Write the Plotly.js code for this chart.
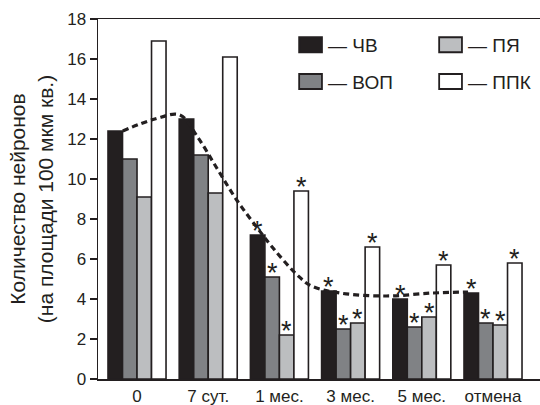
<!DOCTYPE html>
<html>
<head>
<meta charset="utf-8">
<script src="https://cdn.plot.ly/plotly-3.0.1.min.js"></script>
<style>html,body{margin:0;padding:0;background:#fff;}#chart{width:540px;height:405px;}</style>
</head>
<body>
<div id="chart"></div>
<script>
// ---- data ----
const categories = ['0', '7 сут.', '1 мес.', '3 мес.', '5 мес.', 'отмена'];
const seriesNames = ['ЧВ', 'ВОП', 'ПЯ', 'ППК'];
const chv = [12.4, 13.0, 7.2, 4.4, 4.0, 4.3];
const vop = [11.0, 11.2, 5.1, 2.5, 2.6, 2.8];
const pya = [9.1, 9.3, 2.2, 2.8, 3.1, 2.7];
const ppk = [16.9, 16.1, 9.4, 6.6, 5.7, 5.8];
// significance markers (*) per bar
const sigChv = [0, 0, 1, 1, 1, 1];
const sigVop = [0, 0, 1, 1, 1, 1];
const sigPya = [0, 0, 1, 1, 1, 1];
const sigPpk = [0, 0, 1, 1, 1, 1];
// dashed trend curve (x in category units)
const trendX = [-0.2, 0.25, 0.6, 0.85, 1.12, 1.4, 1.69, 1.91, 2.25, 2.45, 2.85, 3.5, 4.15, 4.65];
const trendY = [12.4, 13.0, 13.2, 12.1, 10.55, 8.95, 7.55, 6.55, 5.2, 4.65, 4.3, 4.15, 4.3, 4.35];
const yTicks = [0, 2, 4, 6, 8, 10, 12, 14, 16, 18];

// ---- styles ----
const FONT = 'Liberation Sans, Arial, Helvetica, sans-serif';
const INK = '#231f20';
const colors = ['#231f20', '#808285', '#bcbec0', '#ffffff'];
const legendOf = ['legend', 'legend2', 'legend', 'legend2'];
const values = [chv, vop, pya, ppk];
const sigs = [sigChv, sigVop, sigPya, sigPpk];
const bargap = 0.185;
const xIdx = categories.map((_, i) => i);

const traces = values.map((v, k) => ({
  type: 'bar',
  x: xIdx,
  y: v,
  name: '— ' + seriesNames[k],
  legend: legendOf[k],
  marker: {color: colors[k], line: {color: INK, width: 1.6}},
  hoverinfo: 'y'
}));
traces.push({
  type: 'scatter', mode: 'lines', x: trendX, y: trendY,
  line: {shape: 'spline', color: INK, width: 3.2, dash: '6px,4px'},
  showlegend: false, hoverinfo: 'skip'
});

const n = values.length;
const w = (1 - bargap) / n;
const annotations = [];
values.forEach((v, k) => {
  v.forEach((val, i) => {
    if (sigs[k][i]) {
      annotations.push({
        x: i + (k - (n - 1) / 2) * w, y: val, xref: 'x', yref: 'y',
        text: '*', showarrow: false, yanchor: 'bottom',
        yshift: -13, font: {family: FONT, size: 27, color: INK}
      });
    }
  });
});

const legendBase = {
  orientation: 'h', xanchor: 'left', yanchor: 'middle',
  entrywidth: 95, entrywidthmode: 'pixels',
  font: {family: FONT, size: 19, color: INK}, bgcolor: 'rgba(0,0,0,0)'
};

const layout = {
  width: 540, height: 405,
  margin: {l: 98, r: 0, t: 19, b: 26, autoexpand: false},
  paper_bgcolor: '#fff', plot_bgcolor: '#fff',
  font: {family: FONT, size: 17, color: INK},
  barmode: 'group', bargap: bargap, bargroupgap: 0,
  showlegend: true,
  legend: Object.assign({}, legendBase, {x: 0.43, y: 0.928}),
  legend2: Object.assign({}, legendBase, {x: 0.43, y: 0.826}),
  xaxis: {
    range: [-0.548, 5.66], tickvals: xIdx, ticktext: categories,
    showline: true, mirror: true, linecolor: INK, linewidth: 1.5,
    showgrid: false, zeroline: false, ticks: '', tickfont: {size: 17},
    ticklabelstandoff: 1, fixedrange: true
  },
  yaxis: {
    range: [0, 18], tickvals: yTicks, showline: true, linecolor: INK, linewidth: 1.5,
    ticks: 'outside', ticklen: 7, tickcolor: INK, tickwidth: 1.5,
    showgrid: false, zeroline: false, tickfont: {size: 17},
    title: {text: 'Количество нейронов<br>(на площади 100 мкм кв.)', font: {size: 21}, standoff: 8},
    fixedrange: true
  },
  annotations: annotations
};

Plotly.newPlot('chart', traces, layout, {displayModeBar: false, staticPlot: true}).then(gd => {
  // wider legend swatches placed just before the "— name" text, as in the reference
  gd.querySelectorAll('.legendpoints path').forEach(p => {
    p.setAttribute('transform', 'translate(22.5,0) scale(1.9,1.25)');
    p.style.vectorEffect = 'non-scaling-stroke';
    p.style.strokeWidth = '1.8px';
  });
});
</script>
</body>
</html>
